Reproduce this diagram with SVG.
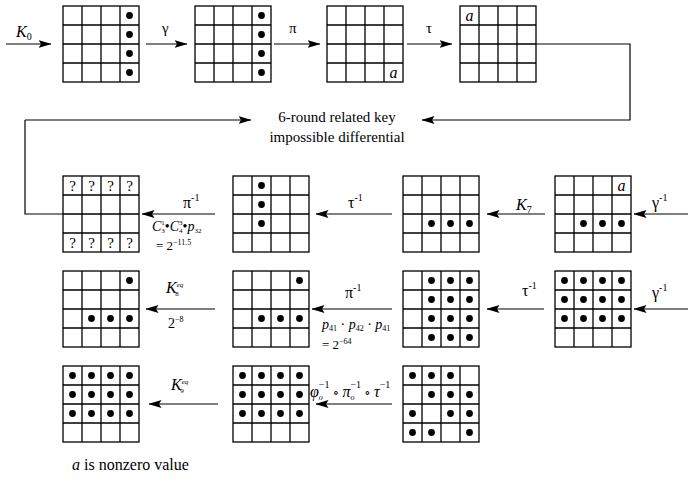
<svg xmlns="http://www.w3.org/2000/svg" width="688" height="486" viewBox="0 0 688 486">
<style>
.g{fill:none;stroke:#000;stroke-width:1.3}
.c{stroke:#000;stroke-width:1.2;fill:none}
.t{font-size:15px;fill:#000}
.i{font-style:italic}
.s{font-size:10px}
.d{fill:#000}
</style>
<defs>
<marker id="ah" markerWidth="13" markerHeight="8" refX="12.5" refY="4" orient="auto" markerUnits="userSpaceOnUse"><path d="M0,0 L13,4 L0,8 L2.5,4 Z" fill="#000"/></marker>
<g id="grid"><rect x="0" y="0" width="76" height="76" class="g"/><path class="g" d="M19,0V76M38,0V76M57,0V76M0,19H76M0,38H76M0,57H76"/></g>
</defs>
<g id="connectors">
<line class="c" x1="6" y1="44" x2="51" y2="44" marker-end="url(#ah)"/>
<line class="c" x1="146" y1="44" x2="187" y2="44" marker-end="url(#ah)"/>
<line class="c" x1="274" y1="44" x2="320" y2="44" marker-end="url(#ah)"/>
<line class="c" x1="407" y1="44" x2="452" y2="44" marker-end="url(#ah)"/>
<polyline class="c" points="536,44 630,44 630,120 422,120" marker-end="url(#ah)"/>
<line class="c" x1="25" y1="120" x2="251" y2="120" marker-end="url(#ah)"/>
<polyline class="c" points="25,120 25,214 63,214"/>
<line class="c" x1="215" y1="214" x2="142" y2="214" marker-end="url(#ah)"/>
<line class="c" x1="392" y1="214" x2="316" y2="214" marker-end="url(#ah)"/>
<line class="c" x1="545" y1="214" x2="487" y2="214" marker-end="url(#ah)"/>
<line class="c" x1="688" y1="214" x2="634" y2="214" marker-end="url(#ah)"/>
<line class="c" x1="215" y1="309" x2="146" y2="309" marker-end="url(#ah)"/>
<line class="c" x1="392" y1="309" x2="312" y2="309" marker-end="url(#ah)"/>
<line class="c" x1="544" y1="309" x2="487" y2="309" marker-end="url(#ah)"/>
<line class="c" x1="688" y1="309" x2="634" y2="309" marker-end="url(#ah)"/>
<line class="c" x1="218" y1="404" x2="149" y2="404" marker-end="url(#ah)"/>
<line class="c" x1="392" y1="404" x2="316" y2="404" marker-end="url(#ah)"/>
</g>
<g font-family="'Liberation Serif','Times New Roman','DejaVu Serif',serif">
<g id="n1"><use href="#grid" x="63" y="6"/>
<circle class="d" cx="129.5" cy="15.5" r="3.4"/><circle class="d" cx="129.5" cy="34.5" r="3.4"/><circle class="d" cx="129.5" cy="53.5" r="3.4"/><circle class="d" cx="129.5" cy="72.5" r="3.4"/></g>
<g id="n2"><use href="#grid" x="195" y="6"/>
<circle class="d" cx="261.5" cy="15.5" r="3.4"/><circle class="d" cx="261.5" cy="34.5" r="3.4"/><circle class="d" cx="261.5" cy="53.5" r="3.4"/><circle class="d" cx="261.5" cy="72.5" r="3.4"/></g>
<g id="n3"><use href="#grid" x="327" y="6"/><text class="t i" style="font-size:16px" x="393.5" y="77.5" text-anchor="middle">a</text></g>
<g id="n4"><use href="#grid" x="460" y="6"/><text class="t i" style="font-size:16px" x="469.5" y="20.5" text-anchor="middle">a</text></g>
<g id="n5"><use href="#grid" x="63" y="176"/>
<text class="t" text-anchor="middle" x="72.5" y="191">?</text><text class="t" text-anchor="middle" x="91.5" y="191">?</text><text class="t" text-anchor="middle" x="110.5" y="191">?</text><text class="t" text-anchor="middle" x="129.5" y="191">?</text>
<text class="t" text-anchor="middle" x="72.5" y="248">?</text><text class="t" text-anchor="middle" x="91.5" y="248">?</text><text class="t" text-anchor="middle" x="110.5" y="248">?</text><text class="t" text-anchor="middle" x="129.5" y="248">?</text></g>
<g id="n6"><use href="#grid" x="233" y="176"/>
<circle class="d" cx="261.5" cy="185.5" r="3.4"/><circle class="d" cx="261.5" cy="204.5" r="3.4"/><circle class="d" cx="261.5" cy="223.5" r="3.4"/></g>
<g id="n7"><use href="#grid" x="403" y="176"/>
<circle class="d" cx="431.5" cy="223.5" r="3.4"/><circle class="d" cx="450.5" cy="223.5" r="3.4"/><circle class="d" cx="469.5" cy="223.5" r="3.4"/></g>
<g id="n8"><use href="#grid" x="555" y="176"/><text class="t i" style="font-size:16px" x="621.5" y="191" text-anchor="middle">a</text>
<circle class="d" cx="583.5" cy="223.5" r="3.4"/><circle class="d" cx="602.5" cy="223.5" r="3.4"/><circle class="d" cx="621.5" cy="223.5" r="3.4"/></g>
<g id="n9"><use href="#grid" x="63" y="271"/>
<circle class="d" cx="129.5" cy="280.5" r="3.4"/>
<circle class="d" cx="91.5" cy="318.5" r="3.4"/><circle class="d" cx="110.5" cy="318.5" r="3.4"/><circle class="d" cx="129.5" cy="318.5" r="3.4"/></g>
<g id="n10"><use href="#grid" x="233" y="271"/>
<circle class="d" cx="299.5" cy="280.5" r="3.4"/>
<circle class="d" cx="261.5" cy="318.5" r="3.4"/><circle class="d" cx="280.5" cy="318.5" r="3.4"/><circle class="d" cx="299.5" cy="318.5" r="3.4"/></g>
<g id="n11"><use href="#grid" x="403" y="271"/>
<circle class="d" cx="431.5" cy="280.5" r="3.4"/><circle class="d" cx="450.5" cy="280.5" r="3.4"/><circle class="d" cx="469.5" cy="280.5" r="3.4"/>
<circle class="d" cx="431.5" cy="299.5" r="3.4"/><circle class="d" cx="450.5" cy="299.5" r="3.4"/><circle class="d" cx="469.5" cy="299.5" r="3.4"/>
<circle class="d" cx="431.5" cy="318.5" r="3.4"/><circle class="d" cx="450.5" cy="318.5" r="3.4"/><circle class="d" cx="469.5" cy="318.5" r="3.4"/>
<circle class="d" cx="431.5" cy="337.5" r="3.4"/><circle class="d" cx="450.5" cy="337.5" r="3.4"/><circle class="d" cx="469.5" cy="337.5" r="3.4"/></g>
<g id="n12"><use href="#grid" x="555" y="271"/>
<circle class="d" cx="564.5" cy="280.5" r="3.4"/><circle class="d" cx="583.5" cy="280.5" r="3.4"/><circle class="d" cx="602.5" cy="280.5" r="3.4"/><circle class="d" cx="621.5" cy="280.5" r="3.4"/>
<circle class="d" cx="564.5" cy="299.5" r="3.4"/><circle class="d" cx="583.5" cy="299.5" r="3.4"/><circle class="d" cx="602.5" cy="299.5" r="3.4"/><circle class="d" cx="621.5" cy="299.5" r="3.4"/>
<circle class="d" cx="564.5" cy="318.5" r="3.4"/><circle class="d" cx="583.5" cy="318.5" r="3.4"/><circle class="d" cx="602.5" cy="318.5" r="3.4"/><circle class="d" cx="621.5" cy="318.5" r="3.4"/></g>
<g id="n13"><use href="#grid" x="63" y="366"/>
<circle class="d" cx="72.5" cy="375.5" r="3.4"/><circle class="d" cx="91.5" cy="375.5" r="3.4"/><circle class="d" cx="110.5" cy="375.5" r="3.4"/><circle class="d" cx="129.5" cy="375.5" r="3.4"/>
<circle class="d" cx="72.5" cy="394.5" r="3.4"/><circle class="d" cx="91.5" cy="394.5" r="3.4"/><circle class="d" cx="110.5" cy="394.5" r="3.4"/><circle class="d" cx="129.5" cy="394.5" r="3.4"/>
<circle class="d" cx="72.5" cy="413.5" r="3.4"/><circle class="d" cx="91.5" cy="413.5" r="3.4"/><circle class="d" cx="110.5" cy="413.5" r="3.4"/><circle class="d" cx="129.5" cy="413.5" r="3.4"/></g>
<g id="n14"><use href="#grid" x="233" y="366"/>
<circle class="d" cx="242.5" cy="375.5" r="3.4"/><circle class="d" cx="261.5" cy="375.5" r="3.4"/><circle class="d" cx="280.5" cy="375.5" r="3.4"/><circle class="d" cx="299.5" cy="375.5" r="3.4"/>
<circle class="d" cx="242.5" cy="394.5" r="3.4"/><circle class="d" cx="261.5" cy="394.5" r="3.4"/><circle class="d" cx="280.5" cy="394.5" r="3.4"/><circle class="d" cx="299.5" cy="394.5" r="3.4"/>
<circle class="d" cx="242.5" cy="413.5" r="3.4"/><circle class="d" cx="261.5" cy="413.5" r="3.4"/><circle class="d" cx="280.5" cy="413.5" r="3.4"/><circle class="d" cx="299.5" cy="413.5" r="3.4"/></g>
<g id="n15"><use href="#grid" x="403" y="366"/>
<circle class="d" cx="412.5" cy="375.5" r="3.4"/><circle class="d" cx="431.5" cy="375.5" r="3.4"/><circle class="d" cx="450.5" cy="375.5" r="3.4"/>
<circle class="d" cx="431.5" cy="394.5" r="3.4"/><circle class="d" cx="450.5" cy="394.5" r="3.4"/><circle class="d" cx="469.5" cy="394.5" r="3.4"/>
<circle class="d" cx="412.5" cy="413.5" r="3.4"/><circle class="d" cx="450.5" cy="413.5" r="3.4"/><circle class="d" cx="469.5" cy="413.5" r="3.4"/>
<circle class="d" cx="412.5" cy="432.5" r="3.4"/><circle class="d" cx="431.5" cy="432.5" r="3.4"/><circle class="d" cx="469.5" cy="432.5" r="3.4"/></g>
<g id="labels">
<text class="t" x="16" y="37" style="font-size:16px"><tspan class="i">K</tspan><tspan class="s" dy="3">0</tspan></text>
<text class="t" x="162" y="33">γ</text>
<text class="t" x="289" y="33">π</text>
<text class="t" x="426" y="33">τ</text>
<text class="t" x="337" y="122" text-anchor="middle">6-round related key</text>
<text class="t" x="337" y="142" text-anchor="middle">impossible differential</text>
<text class="t" x="183" y="208" style="font-size:16px">π<tspan class="s" dy="-7">-1</tspan></text>
<text class="t" x="152" y="231" style="font-size:14px"><tspan class="i">C</tspan><tspan style="font-size:7px" dy="-6">1</tspan><tspan style="font-size:7px" dx="-3.5" dy="8">3</tspan><tspan dy="-2">•</tspan><tspan class="i">C</tspan><tspan style="font-size:7px" dy="-6">3</tspan><tspan style="font-size:7px" dx="-3.5" dy="8">4</tspan><tspan dy="-2">•</tspan><tspan class="i">p</tspan><tspan style="font-size:7px" dy="2">32</tspan></text>
<text class="t" x="156" y="250" style="font-size:13px">= 2<tspan style="font-size:8px" dy="-5">−11.5</tspan></text>
<text class="t" x="348" y="208" style="font-size:16px">τ<tspan class="s" dy="-7">-1</tspan></text>
<text class="t" x="516" y="210" style="font-size:16px"><tspan class="i">K</tspan><tspan class="s" dy="3">7</tspan></text>
<text class="t" x="652" y="208" style="font-size:16px">γ<tspan class="s" dy="-7">-1</tspan></text>
<text class="t" x="166" y="293" style="font-size:16px"><tspan class="i">K</tspan><tspan class="i" style="font-size:7px" dy="-6">eq</tspan><tspan style="font-size:7px" dx="-8" dy="9">8</tspan></text>
<text class="t" x="168" y="328" style="font-size:14px">2<tspan style="font-size:8px" dy="-6">−8</tspan></text>
<text class="t" x="345" y="298" style="font-size:16px">π<tspan class="s" dy="-7">-1</tspan></text>
<text class="t" x="322" y="329" style="font-size:14px"><tspan class="i">p</tspan><tspan style="font-size:8px" dy="2">41</tspan><tspan dy="-2"> · </tspan><tspan class="i">p</tspan><tspan style="font-size:8px" dy="2">42</tspan><tspan dy="-2"> · </tspan><tspan class="i">p</tspan><tspan style="font-size:8px" dy="2">41</tspan></text>
<text class="t" x="322" y="349" style="font-size:13px">= 2<tspan style="font-size:8px" dy="-5">−64</tspan></text>
<text class="t" x="522" y="296" style="font-size:16px">τ<tspan class="s" dy="-7">-1</tspan></text>
<text class="t" x="652" y="298" style="font-size:16px">γ<tspan class="s" dy="-7">-1</tspan></text>
<text class="t" x="171" y="390" style="font-size:16px"><tspan class="i">K</tspan><tspan class="i" style="font-size:7px" dy="-6">eq</tspan><tspan style="font-size:7px" dx="-8" dy="9">9</tspan></text>
<text class="t" x="310" y="397" style="font-size:16px"><tspan class="i">φ</tspan><tspan style="font-size:8px" class="i" dy="3">o</tspan><tspan style="font-size:10px" dx="-4" dy="-12">−1</tspan><tspan style="font-size:13px" dy="9"> ∘ </tspan><tspan class="i">π</tspan><tspan style="font-size:8px" class="i" dy="3">o</tspan><tspan style="font-size:10px" dx="-4" dy="-12">−1</tspan><tspan style="font-size:13px" dy="9"> ∘ </tspan><tspan class="i">τ</tspan><tspan style="font-size:10px" dy="-9">−1</tspan></text>
<text class="t" x="72" y="470" style="font-size:16px"><tspan class="i">a</tspan> is nonzero value</text>
</g>
</g>
</svg>
